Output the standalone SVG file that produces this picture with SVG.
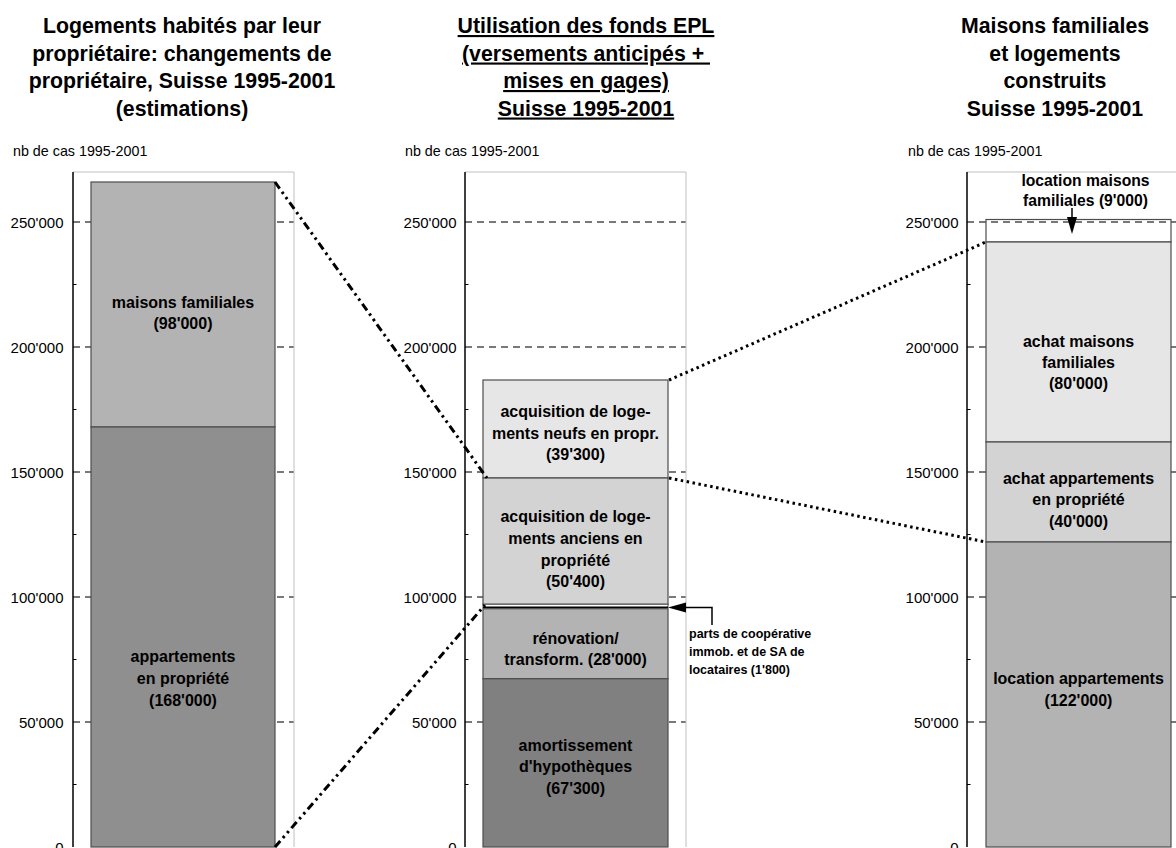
<svg xmlns="http://www.w3.org/2000/svg" width="1176" height="848" viewBox="0 0 1176 848">
<style>
text{font-family:"Liberation Sans",Arial,sans-serif;fill:#000}
.title{font-size:21.3px;font-weight:bold;text-anchor:middle}
.ul{text-decoration:underline}
.unit{font-size:14.3px}
.ytick{font-size:15px;text-anchor:end}
.lbl{font-size:16px;font-weight:bold;text-anchor:middle}
.small{font-size:12.5px;font-weight:bold}
.axis{stroke:#000;stroke-width:1.5}
.frame{stroke:#c0c0c0;stroke-width:1;fill:none}
.grid{stroke:#4d4d4d;stroke-width:1.5;stroke-dasharray:7 5}
.minor{stroke:#000;stroke-width:1}
.bar{stroke:#4d4d4d;stroke-width:1.2}
.c1{fill:#e6e6e6}.c2{fill:#d3d3d3}.c3{fill:#b3b3b3}.c4{fill:#8f8f8f}.c5{fill:#808080}.cw{fill:#fff}
.dashdot{stroke:#000;stroke-width:3;fill:none;stroke-dasharray:8 4 2.5 4 2.5 4}
.dot{stroke:#000;stroke-width:3;fill:none;stroke-dasharray:2.5 3.5}
.ptr{stroke:#000;stroke-width:1.5;fill:none}
</style>
<defs>
<g id="gridset">
<line class="grid" x1="0" y1="222" x2="221" y2="222"/>
<line class="grid" x1="0" y1="347" x2="221" y2="347"/>
<line class="grid" x1="0" y1="472" x2="221" y2="472"/>
<line class="grid" x1="0" y1="597" x2="221" y2="597"/>
<line class="grid" x1="0" y1="722" x2="221" y2="722"/>
<line class="minor" x1="0" y1="284.5" x2="3.5" y2="284.5"/>
<line class="minor" x1="0" y1="409.5" x2="3.5" y2="409.5"/>
<line class="minor" x1="0" y1="534.5" x2="3.5" y2="534.5"/>
<line class="minor" x1="0" y1="659.5" x2="3.5" y2="659.5"/>
<line class="minor" x1="0" y1="784.5" x2="3.5" y2="784.5"/>
<polyline class="frame" points="0,172 221,172 221,847"/>
<line class="axis" x1="0" y1="172" x2="0" y2="847"/>
</g>
<g id="ylabels">
<text class="ytick" x="0" y="227.5">250'000</text>
<text class="ytick" x="0" y="352.5">200'000</text>
<text class="ytick" x="0" y="477.5">150'000</text>
<text class="ytick" x="0" y="602.5">100'000</text>
<text class="ytick" x="0" y="727.5">50'000</text>
<text class="ytick" x="0" y="852.5">0</text>
</g>
</defs>
<rect width="1176" height="848" fill="#fff"/>

<g id="chart-left">
<text class="title" x="182" y="33">Logements habités par leur</text>
<text class="title" x="182" y="60.5">propriétaire: changements de</text>
<text class="title" x="182" y="88">propriétaire, Suisse 1995-2001</text>
<text class="title" x="182" y="115.5">(estimations)</text>
<text class="unit" x="13" y="156">nb de cas 1995-2001</text>
<use href="#gridset" x="73"/>
<use href="#ylabels" x="63.5"/>
</g>
<g id="bar-maisons-familiales">
<rect class="bar c3" x="91" y="182" width="184" height="245"/>
<text class="lbl" x="183" y="307.5">maisons familiales</text>
<text class="lbl" x="183" y="329">(98'000)</text>
</g>
<g id="bar-appartements-propriete">
<rect class="bar c4" x="91" y="427" width="184" height="420"/>
<text class="lbl" x="183" y="662">appartements</text>
<text class="lbl" x="183" y="684">en propriété</text>
<text class="lbl" x="183" y="705.5">(168'000)</text>
</g>

<g id="chart-middle">
<text class="title ul" x="586" y="33">Utilisation des fonds EPL</text>
<text class="title ul" x="586" y="60.5" xml:space="preserve">(versements anticipés + </text>
<text class="title ul" x="586" y="88">mises en gages)</text>
<text class="title ul" x="586" y="115.5">Suisse 1995-2001</text>
<text class="unit" x="405" y="156">nb de cas 1995-2001</text>
<use href="#gridset" x="465"/>
<use href="#ylabels" x="456.5"/>
</g>
<g id="bar-neufs">
<rect class="bar c1" x="483" y="380" width="185" height="98"/>
<text class="lbl" x="575.5" y="417">acquisition de loge-</text>
<text class="lbl" x="575.5" y="439">ments neufs en propr.</text>
<text class="lbl" x="575.5" y="460">(39'300)</text>
</g>
<g id="bar-anciens">
<rect class="bar c2" x="483" y="478" width="185" height="126.25"/>
<text class="lbl" x="575.5" y="522">acquisition de loge-</text>
<text class="lbl" x="575.5" y="544">ments anciens en</text>
<text class="lbl" x="575.5" y="565.5">propriété</text>
<text class="lbl" x="575.5" y="587">(50'400)</text>
</g>
<g id="bar-parts">
<rect class="cw" x="483" y="604.25" width="185" height="3.5" stroke="#4d4d4d" stroke-width="1"/>
<line x1="483" y1="607.5" x2="668" y2="607.5" stroke="#000" stroke-width="2"/>
</g>
<g id="bar-renovation">
<rect class="bar c3" x="483" y="608.75" width="185" height="70"/>
<text class="lbl" x="575.5" y="644">rénovation/</text>
<text class="lbl" x="575.5" y="665">transform. (28'000)</text>
</g>
<g id="bar-amortissement">
<rect class="bar c5" x="483" y="678.75" width="185" height="168.25"/>
<text class="lbl" x="575.5" y="750.5">amortissement</text>
<text class="lbl" x="575.5" y="772">d'hypothèques</text>
<text class="lbl" x="575.5" y="794">(67'300)</text>
</g>
<g id="note-parts">
<text class="small" x="689" y="638">parts de coopérative</text>
<text class="small" x="689" y="656">immob. et de SA de</text>
<text class="small" x="689" y="674">locataires (1'800)</text>
</g>

<g id="chart-right">
<text class="title" x="1055" y="33">Maisons familiales</text>
<text class="title" x="1055" y="60.5">et logements</text>
<text class="title" x="1055" y="88">construits</text>
<text class="title" x="1055" y="115.5">Suisse 1995-2001</text>
<text class="unit" x="908" y="156">nb de cas 1995-2001</text>
<use href="#gridset" x="967"/>
<use href="#ylabels" x="958.5"/>
</g>
<g id="bar-location-maisons">
<rect class="bar cw" x="986" y="219.5" width="185" height="22.5" fill-opacity="0"/>
<text class="lbl" x="1085.5" y="185.5" style="font-size:15.7px">location maisons</text>
<text class="lbl" x="1085.5" y="205.5" style="font-size:15.7px">familiales (9'000)</text>
</g>
<g id="bar-achat-maisons">
<rect class="bar c1" x="986" y="242" width="185" height="200"/>
<text class="lbl" x="1078.5" y="346.5">achat maisons</text>
<text class="lbl" x="1078.5" y="368">familiales</text>
<text class="lbl" x="1078.5" y="389">(80'000)</text>
</g>
<g id="bar-achat-appartements">
<rect class="bar c2" x="986" y="442" width="185" height="100"/>
<text class="lbl" x="1078.5" y="483.5">achat appartements</text>
<text class="lbl" x="1078.5" y="505">en propriété</text>
<text class="lbl" x="1078.5" y="526.5">(40'000)</text>
</g>
<g id="bar-location-appartements">
<rect class="bar c3" x="986" y="542" width="185" height="305"/>
<text class="lbl" x="1078.5" y="684">location appartements</text>
<text class="lbl" x="1078.5" y="705.5">(122'000)</text>
</g>

<g id="connectors">
<line class="dashdot" x1="275" y1="182" x2="487" y2="478"/>
<line class="dashdot" x1="275" y1="847" x2="485" y2="605"/>
<line class="dot" x1="669" y1="380" x2="986" y2="242"/>
<line class="dot" x1="669" y1="478" x2="986" y2="542"/>
<polyline class="ptr" points="712,625 712,607.5 684,607.5"/>
<polygon points="668,607.5 686,602.5 686,612.5" fill="#000"/>
<line class="ptr" x1="1072" y1="208" x2="1072" y2="219"/>
<polygon points="1072,234 1067,217 1077,217" fill="#000"/>
</g>
</svg>
